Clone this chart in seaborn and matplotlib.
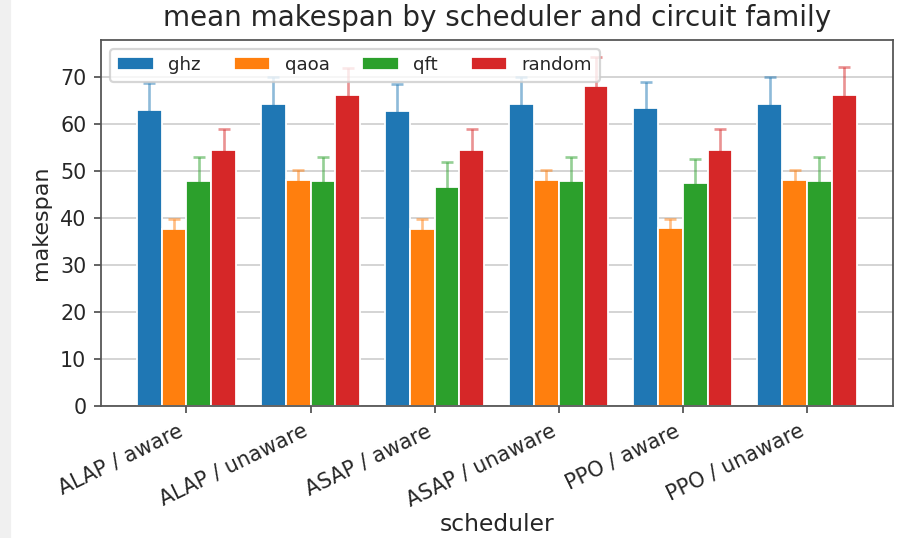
import numpy as np
import pandas as pd
import matplotlib
matplotlib.use("Agg")
import matplotlib.pyplot as plt
import seaborn as sns
from matplotlib.patches import Rectangle

# --- data ---
schedulers = ["ALAP / aware", "ALAP / unaware", "ASAP / aware",
              "ASAP / unaware", "PPO / aware", "PPO / unaware"]
families = ["ghz", "qaoa", "qft", "random"]

ghz_mean = [63.0, 64.3, 62.8, 64.3, 63.5, 64.3]
qaoa_mean = [37.7, 48.0, 37.7, 48.0, 37.8, 48.0]
qft_mean = [47.8, 47.8, 46.7, 47.8, 47.5, 47.8]
random_mean = [54.4, 66.1, 54.4, 68.1, 54.5, 66.1]

ghz_err = [5.7, 5.6, 5.6, 5.7, 5.5, 5.7]
qaoa_err = [2.0, 2.3, 2.0, 2.3, 2.0, 2.3]
qft_err = [5.1, 5.1, 5.3, 5.1, 5.0, 5.1]
random_err = [4.6, 5.9, 4.6, 6.1, 4.4, 6.0]

means = {"ghz": ghz_mean, "qaoa": qaoa_mean, "qft": qft_mean, "random": random_mean}
errs = {"ghz": ghz_err, "qaoa": qaoa_err, "qft": qft_err, "random": random_err}

rows = []
for fam in families:
    for s, m in zip(schedulers, means[fam]):
        rows.append({"scheduler": s, "family": fam, "makespan": m})
df = pd.DataFrame(rows)

# --- plot ---
sns.set_style("white")
plt.rcParams["font.family"] = ["DejaVu Sans"]

scale = 160
fig, ax = plt.subplots(figsize=(908 / scale, 538 / scale), dpi=scale)
fig.subplots_adjust(left=0.111, right=0.983, top=0.926, bottom=0.245)

palette = sns.color_palette("tab10", 4)
sns.barplot(data=df, x="scheduler", y="makespan", hue="family",
            hue_order=families, order=schedulers, palette=palette,
            errorbar=None, width=0.8, edgecolor="white", linewidth=0.8,
            saturation=1, ax=ax)

# error bars on top of each bar, lighter colour
for container, fam, col in zip(ax.containers, families, palette):
    xs = [p.get_x() + p.get_width() / 2 for p in container]
    hs = [p.get_height() for p in container]
    ax.errorbar(xs, hs, yerr=errs[fam], fmt="none", ecolor=col,
                alpha=0.5, capsize=2.5, elinewidth=1.2, capthick=1.2)

ax.set_xlim(-0.69, 5.69)
ax.set_ylim(0, 77.9)
ax.yaxis.grid(True, color="#d0d0d0", linewidth=0.8)
ax.set_axisbelow(True)
for sp in ax.spines.values():
    sp.set_color("#555555")
    sp.set_linewidth(0.8)
ax.tick_params(axis="both", which="both", length=3, color="#555555",
               labelsize=9.3, left=True, bottom=True)
plt.setp(ax.get_xticklabels(), rotation=26, ha="right")

ax.set_title("mean makespan by scheduler and circuit family", fontsize=12.5)
ax.set_xlabel("scheduler", fontsize=10.5, labelpad=1)
ax.set_ylabel("makespan", fontsize=10)
ax.legend(loc="upper left", ncol=4, fontsize=8.2, framealpha=0.8,
          columnspacing=1.8)

# light gray strip at the left edge of the screenshot
fig.patches.append(Rectangle((0, 0), 10 / 908, 1, transform=fig.transFigure,
                             color="#f0f0f0", zorder=-1))

fig.savefig("out.png", dpi=scale)
